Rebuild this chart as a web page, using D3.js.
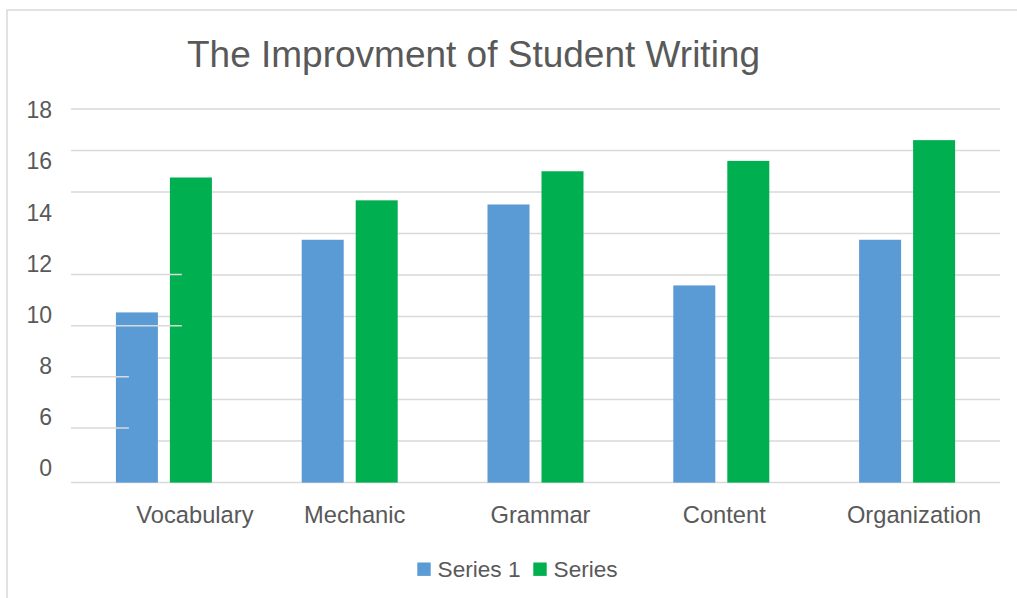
<!DOCTYPE html>
<html>
<head>
<meta charset="utf-8">
<script src="https://cdn.jsdelivr.net/npm/d3@7"></script>
<style>
  html, body { margin: 0; padding: 0; background: #ffffff; }
  svg { display: block; font-family: "Liberation Sans", Arial, sans-serif; }
</style>
</head>
<body>
<svg id="chart" width="1017" height="598"></svg>
<script>
// ---- data ----
const categories = ["Vocabulary", "Mechanic", "Grammar", "Content", "Organization"];
const seriesNames = ["Series 1", "Series"];
const series1 = [8.2, 11.7, 13.4, 9.5, 11.7];
const series2 = [14.7, 13.6, 15.0, 15.5, 16.5];
const yTickLabels = ["18", "16", "14", "12", "10", "8", "6", "0"];
const gridValues = [0, 2, 4, 6, 8, 10, 12, 14, 16, 18];
const titleText = "The Improvment of Student Writing";

// ---- layout / style ----
const W = 1017, H = 598;
const colors = ["#5B9BD5", "#00B050"];
const textColor = "#595959";
const gridColor = "#d9d9d9";
const plot = { left: 71, right: 1000, top: 109, bottom: 482.6 };
const labelNudge = [31, 5, 5, 3, 7];

const svg = d3.select("#chart");

// chart-area outline (top and left edges visible)
svg.append("path")
  .attr("d", `M7,${H + 2} L7,10 L${W + 2},10`)
  .attr("fill", "none").attr("stroke", gridColor).attr("stroke-width", 1.5);

const x0 = d3.scaleBand().domain(categories).range([plot.left, plot.right]).paddingInner(0).paddingOuter(0);
const groupW = 96;
const x1 = d3.scaleBand().domain(seriesNames).range([0, groupW]).paddingInner(2 / 9).paddingOuter(0);
const y = d3.scaleLinear().domain([0, 18]).range([plot.bottom, plot.top]);

// Gridline starts: lower lines are hidden behind the left label boxes
const firstBlueRight = x0(categories[0]) + x0.bandwidth() / 2 - groupW / 2 + x1(seriesNames[0]) + x1.bandwidth();
const firstGreenRight = x0(categories[0]) + x0.bandwidth() / 2 - groupW / 2 + x1(seriesNames[1]) + x1.bandwidth();
function gridStart(v) {
  if (v === 0 || v >= 14) return plot.left;
  if (v >= 10) return firstGreenRight;
  return firstBlueRight;
}

svg.append("g").selectAll("line").data(gridValues).join("line")
  .attr("x1", d => gridStart(d)).attr("x2", plot.right)
  .attr("y1", d => y(d)).attr("y2", d => y(d))
  .attr("stroke", gridColor).attr("stroke-width", 1.5);

// bars
const rows = categories.map((c, i) => ({ cat: c, vals: [series1[i], series2[i]] }));
const groups = svg.append("g").selectAll("g").data(rows).join("g")
  .attr("transform", d => `translate(${x0(d.cat) + x0.bandwidth() / 2 - groupW / 2},0)`);
groups.selectAll("rect").data(d => d.vals.map((v, j) => ({ name: seriesNames[j], v, j }))).join("rect")
  .attr("x", d => x1(d.name))
  .attr("width", x1.bandwidth())
  .attr("y", d => y(d.v))
  .attr("height", d => y(0) - y(d.v))
  .attr("fill", d => colors[d.j]);

// y tick labels (evenly spaced text boxes)
const yLab = d3.scalePoint().domain(yTickLabels).range([118.3, 476]);
svg.append("g").selectAll("text").data(yTickLabels).join("text")
  .attr("x", 52).attr("y", d => yLab(d))
  .attr("text-anchor", "end")
  .attr("font-size", 23).attr("fill", textColor)
  .text(d => d);

// underline strokes left below some labels
const underlineLong = ["12", "10"];
const underlineShort = ["8", "6"];
svg.append("g").selectAll("line").data(underlineLong.concat(underlineShort)).join("line")
  .attr("x1", plot.left)
  .attr("x2", d => underlineLong.includes(d) ? firstGreenRight - 30 : firstBlueRight - 29)
  .attr("y1", d => yLab(d) + 3).attr("y2", d => yLab(d) + 3)
  .attr("stroke", gridColor).attr("stroke-width", 1.5);

// category labels
svg.append("g").selectAll("text").data(categories).join("text")
  .attr("x", (d, i) => x0(d) + x0.bandwidth() / 2 + labelNudge[i])
  .attr("y", 523)
  .attr("text-anchor", "middle")
  .attr("font-size", 23.7).attr("fill", textColor)
  .text(d => d);

// title
svg.append("text")
  .attr("x", 473.5).attr("y", 67)
  .attr("text-anchor", "middle")
  .attr("font-size", 37).attr("fill", textColor)
  .text(titleText);

// legend
const legendX = [417.3, 533.3];
const lg = svg.append("g").selectAll("g").data(seriesNames).join("g")
  .attr("transform", (d, i) => `translate(${legendX[i]},562.5)`);
lg.append("rect").attr("width", 13.4).attr("height", 13.4).attr("fill", (d, i) => colors[i]);
lg.append("text").attr("x", 20.3).attr("y", 14)
  .attr("font-size", 22.6).attr("fill", textColor)
  .text(d => d);
</script>
</body>
</html>
